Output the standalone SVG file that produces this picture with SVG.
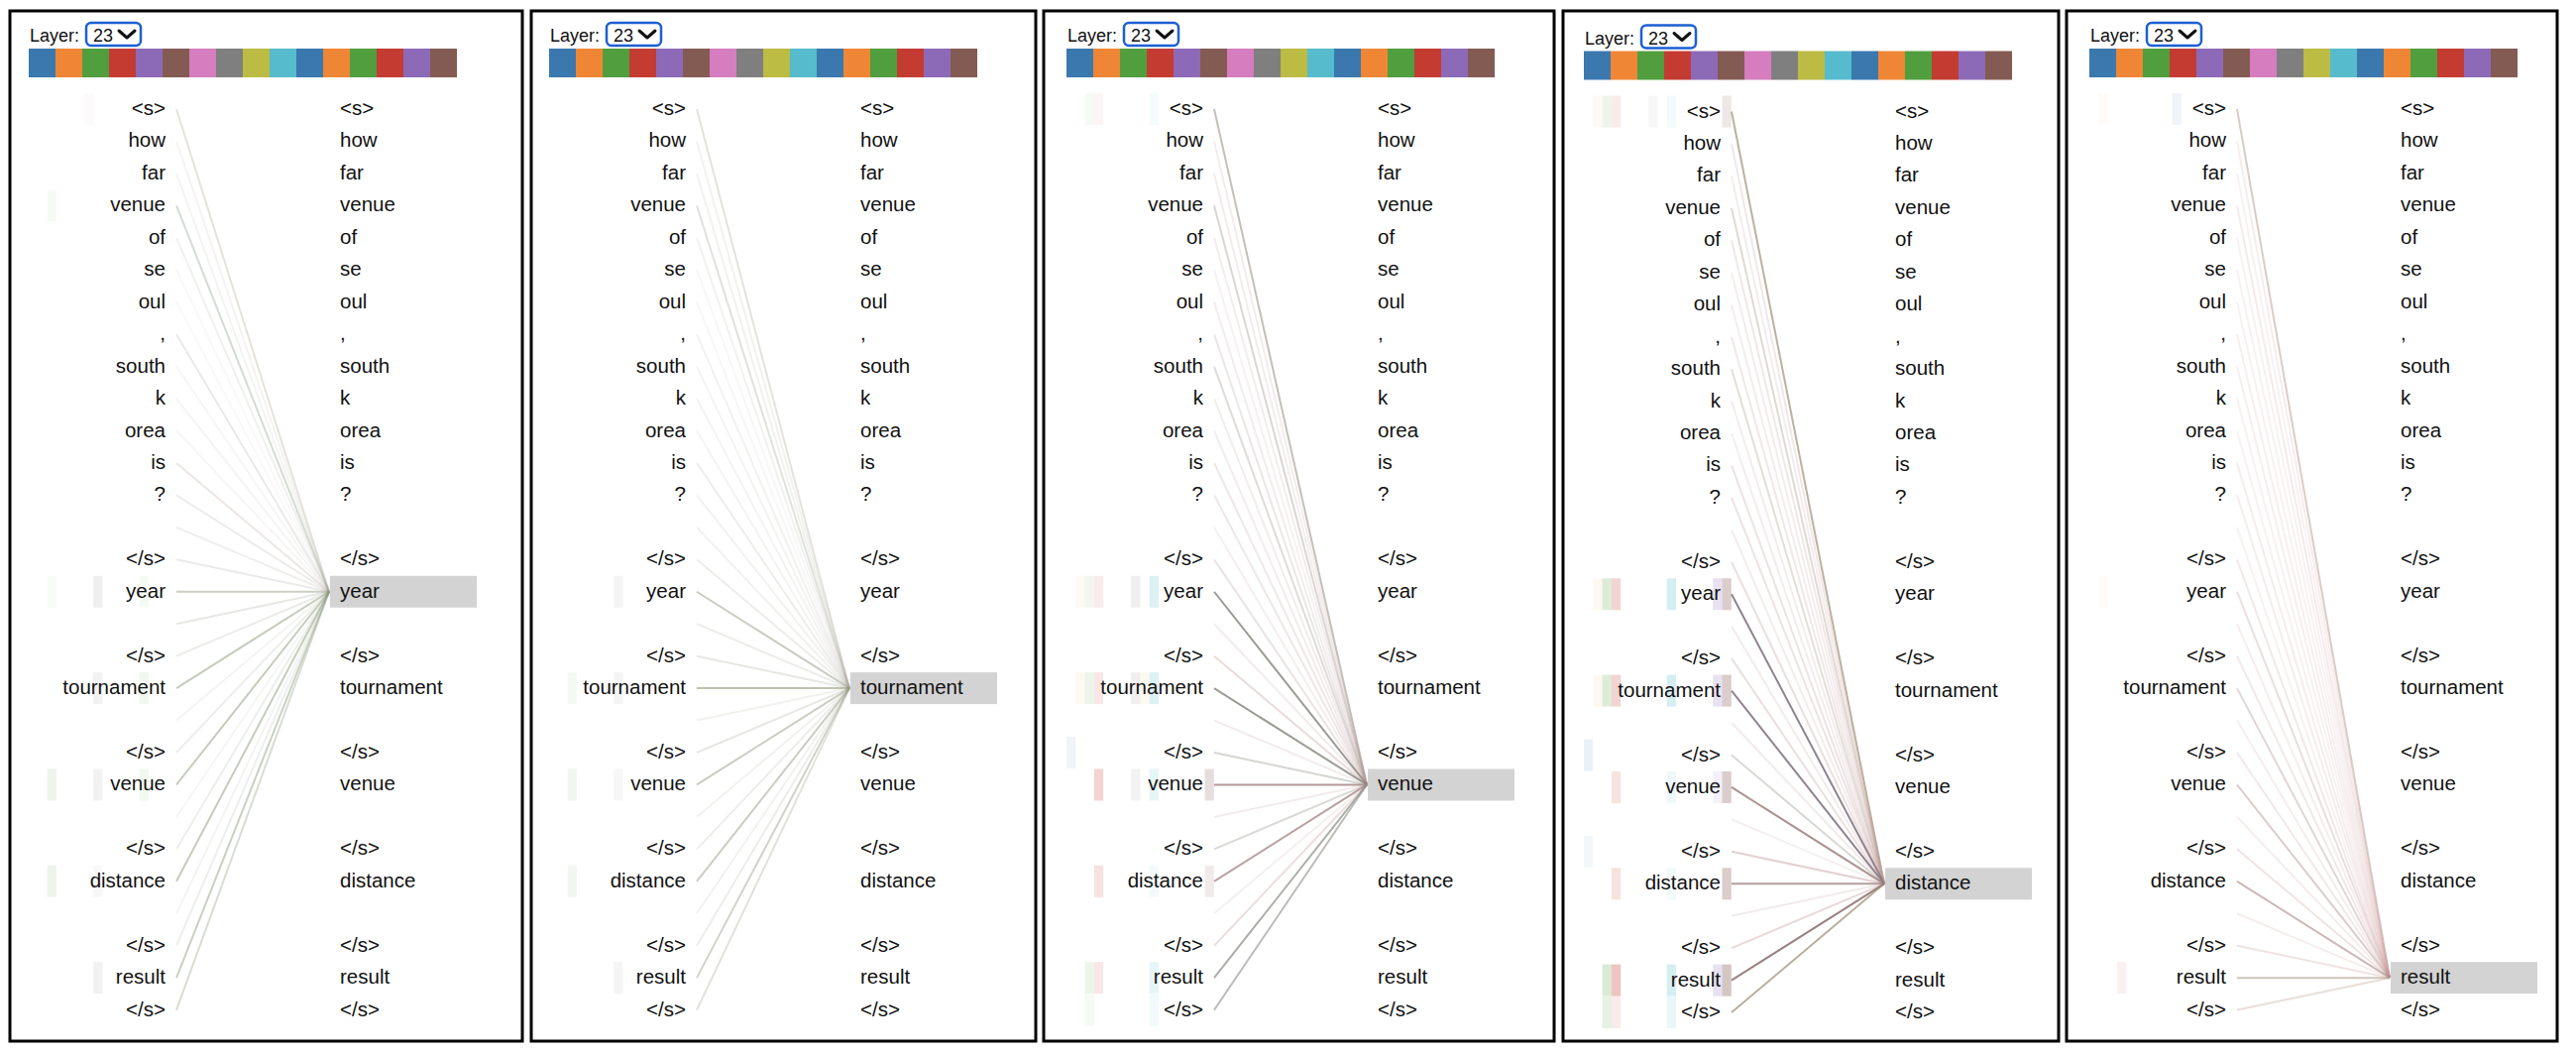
<svg xmlns="http://www.w3.org/2000/svg" width="2599" height="1065" viewBox="0 0 2599 1065">
<style>
.frame{fill:#fff;stroke:#000;stroke-width:3}
.lay{font-family:"Liberation Sans",Arial,Helvetica,sans-serif;font-size:18px;fill:#111}
.tok{font-family:"Liberation Sans",Arial,Helvetica,sans-serif;font-size:20.5px;fill:#111}
.l{text-anchor:end}
.sel{fill:#fff;stroke:#1c5fd4;stroke-width:2.5}
.chev{fill:none;stroke:#111;stroke-width:3;stroke-linecap:round;stroke-linejoin:round}
.hl{fill:#d3d3d3}
.conn line{stroke-width:2}
.c0{fill:#3a78ae}.c1{fill:#ef8636}.c2{fill:#519e3e}.c3{fill:#c43b32}.c4{fill:#8d6ab8}.c5{fill:#845b53}.c6{fill:#d57dbf}.c7{fill:#7f7f7f}.c8{fill:#bcbb44}.c9{fill:#56bbcd}
</style>
<defs>
<g id="hdr">
<text class="lay" x="1" y="42">Layer:</text>
<rect class="sel" x="58" y="23" width="55" height="23" rx="5"/>
<text class="lay" x="65" y="42">23</text>
<polyline class="chev" points="91,31 99,38 107,31"/>
<rect class="c0" x="0" y="49" width="27" height="29"/><rect class="c1" x="27" y="49" width="27" height="29"/><rect class="c2" x="54" y="49" width="27" height="29"/><rect class="c3" x="81" y="49" width="27" height="29"/><rect class="c4" x="108" y="49" width="27" height="29"/><rect class="c5" x="135" y="49" width="27" height="29"/><rect class="c6" x="162" y="49" width="27" height="29"/><rect class="c7" x="189" y="49" width="27" height="29"/><rect class="c8" x="216" y="49" width="27" height="29"/><rect class="c9" x="243" y="49" width="27" height="29"/><rect class="c0" x="270" y="49" width="27" height="29"/><rect class="c1" x="297" y="49" width="27" height="29"/><rect class="c2" x="324" y="49" width="27" height="29"/><rect class="c3" x="351" y="49" width="27" height="29"/><rect class="c4" x="378" y="49" width="27" height="29"/><rect class="c5" x="405" y="49" width="27" height="29"/>
</g>
</defs>
<rect width="2599" height="1065" fill="#fff"/>

<!-- ================= PANEL 1 ================= -->
<g id="panel1">
<rect class="frame" x="10" y="11" width="517" height="1039"/>
<g transform="translate(29,0)">
<use href="#hdr"/>
<g id="p1-heads">
<rect class="c6" x="55.8" y="94" width="9.3" height="32" opacity="0.04"/>
<rect class="c2" x="18.6" y="191.35" width="9.3" height="32" opacity="0.05"/>
<rect class="c7" x="65.1" y="580.75" width="9.3" height="32" opacity="0.12"/>
<rect class="c2" x="18.6" y="580.75" width="9.3" height="32" opacity="0.04"/>
<rect class="c2" x="111.6" y="580.75" width="9.3" height="32" opacity="0.05"/>
<rect class="c7" x="65.1" y="678.1" width="9.3" height="32" opacity="0.1"/>
<rect class="c2" x="111.6" y="678.1" width="9.3" height="32" opacity="0.08"/>
<rect class="c2" x="18.6" y="775.45" width="9.3" height="32" opacity="0.1"/>
<rect class="c7" x="65.1" y="775.45" width="9.3" height="32" opacity="0.1"/>
<rect class="c2" x="111.6" y="775.45" width="9.3" height="32" opacity="0.07"/>
<rect class="c2" x="18.6" y="872.8" width="9.3" height="32" opacity="0.1"/>
<rect class="c7" x="65.1" y="872.8" width="9.3" height="32" opacity="0.05"/>
<rect class="c7" x="65.1" y="970.15" width="9.3" height="32" opacity="0.1"/>
</g>
<rect id="p1-focus" class="hl" x="304" y="580.75" width="148" height="32"/>
<g id="p1-connectors" class="conn">
<line x1="149" y1="110" x2="303" y2="596.75" stroke="#a89f88" stroke-opacity="0.3"/>
<line x1="149" y1="142.45" x2="303" y2="596.75" stroke="#a8a090" stroke-opacity="0.12"/>
<line x1="149" y1="174.9" x2="303" y2="596.75" stroke="#a0a890" stroke-opacity="0.12"/>
<line x1="149" y1="207.35" x2="303" y2="596.75" stroke="#8fa08f" stroke-opacity="0.38"/>
<line x1="149" y1="239.8" x2="303" y2="596.75" stroke="#a0a898" stroke-opacity="0.17"/>
<line x1="149" y1="272.25" x2="303" y2="596.75" stroke="#c0a8a8" stroke-opacity="0.08"/>
<line x1="149" y1="304.7" x2="303" y2="596.75" stroke="#c0a8a8" stroke-opacity="0.08"/>
<line x1="149" y1="337.15" x2="303" y2="596.75" stroke="#9aa090" stroke-opacity="0.22"/>
<line x1="149" y1="369.6" x2="303" y2="596.75" stroke="#b0a8a0" stroke-opacity="0.1"/>
<line x1="149" y1="402.05" x2="303" y2="596.75" stroke="#a0a8a0" stroke-opacity="0.13"/>
<line x1="149" y1="434.5" x2="303" y2="596.75" stroke="#b0a8a0" stroke-opacity="0.1"/>
<line x1="149" y1="466.95" x2="303" y2="596.75" stroke="#b09890" stroke-opacity="0.24"/>
<line x1="149" y1="499.4" x2="303" y2="596.75" stroke="#a8a098" stroke-opacity="0.2"/>
<line x1="149" y1="531.85" x2="303" y2="596.75" stroke="#a8a8a0" stroke-opacity="0.2"/>
<line x1="149" y1="564.3" x2="303" y2="596.75" stroke="#a0a098" stroke-opacity="0.22"/>
<line x1="149" y1="596.75" x2="303" y2="596.75" stroke="#8a9576" stroke-opacity="0.45"/>
<line x1="149" y1="629.2" x2="303" y2="596.75" stroke="#a0a898" stroke-opacity="0.26"/>
<line x1="149" y1="661.65" x2="303" y2="596.75" stroke="#a0a898" stroke-opacity="0.22"/>
<line x1="149" y1="694.1" x2="303" y2="596.75" stroke="#7f8f6a" stroke-opacity="0.45"/>
<line x1="149" y1="726.55" x2="303" y2="596.75" stroke="#a0a898" stroke-opacity="0.13"/>
<line x1="149" y1="759" x2="303" y2="596.75" stroke="#a0a898" stroke-opacity="0.2"/>
<line x1="149" y1="791.45" x2="303" y2="596.75" stroke="#7f8f6a" stroke-opacity="0.45"/>
<line x1="149" y1="823.9" x2="303" y2="596.75" stroke="#a0a898" stroke-opacity="0.1"/>
<line x1="149" y1="856.35" x2="303" y2="596.75" stroke="#a0a898" stroke-opacity="0.2"/>
<line x1="149" y1="888.8" x2="303" y2="596.75" stroke="#7f8f6a" stroke-opacity="0.45"/>
<line x1="149" y1="921.25" x2="303" y2="596.75" stroke="#a0a898" stroke-opacity="0.13"/>
<line x1="149" y1="953.7" x2="303" y2="596.75" stroke="#a0a898" stroke-opacity="0.2"/>
<line x1="149" y1="986.15" x2="303" y2="596.75" stroke="#7f8f6a" stroke-opacity="0.42"/>
<line x1="149" y1="1018.6" x2="303" y2="596.75" stroke="#8a9576" stroke-opacity="0.33"/>
</g>
<g id="p1-left" class="tok l">
<text x="138" y="116">&lt;s&gt;</text><text x="138" y="148.45">how</text><text x="138" y="180.9">far</text><text x="138" y="213.35">venue</text><text x="138" y="245.8">of</text><text x="138" y="278.25">se</text><text x="138" y="310.7">oul</text><text x="138" y="343.15">,</text><text x="138" y="375.6">south</text><text x="138" y="408.05">k</text><text x="138" y="440.5">orea</text><text x="138" y="472.95">is</text><text x="138" y="505.4">?</text><text x="138" y="570.3">&lt;/s&gt;</text><text x="138" y="602.75">year</text><text x="138" y="667.65">&lt;/s&gt;</text><text x="138" y="700.1">tournament</text><text x="138" y="765">&lt;/s&gt;</text><text x="138" y="797.45">venue</text><text x="138" y="862.35">&lt;/s&gt;</text><text x="138" y="894.8">distance</text><text x="138" y="959.7">&lt;/s&gt;</text><text x="138" y="992.15">result</text><text x="138" y="1024.6">&lt;/s&gt;</text>
</g>
<g id="p1-right" class="tok">
<text x="314" y="116">&lt;s&gt;</text><text x="314" y="148.45">how</text><text x="314" y="180.9">far</text><text x="314" y="213.35">venue</text><text x="314" y="245.8">of</text><text x="314" y="278.25">se</text><text x="314" y="310.7">oul</text><text x="314" y="343.15">,</text><text x="314" y="375.6">south</text><text x="314" y="408.05">k</text><text x="314" y="440.5">orea</text><text x="314" y="472.95">is</text><text x="314" y="505.4">?</text><text x="314" y="570.3">&lt;/s&gt;</text><text x="314" y="602.75">year</text><text x="314" y="667.65">&lt;/s&gt;</text><text x="314" y="700.1">tournament</text><text x="314" y="765">&lt;/s&gt;</text><text x="314" y="797.45">venue</text><text x="314" y="862.35">&lt;/s&gt;</text><text x="314" y="894.8">distance</text><text x="314" y="959.7">&lt;/s&gt;</text><text x="314" y="992.15">result</text><text x="314" y="1024.6">&lt;/s&gt;</text>
</g>
</g>
</g>

<!-- ================= PANEL 2 ================= -->
<g id="panel2">
<rect class="frame" x="536" y="11" width="509" height="1039"/>
<g transform="translate(554,0)">
<use href="#hdr"/>
<g id="p2-heads">
<rect class="c7" x="65.1" y="580.75" width="9.3" height="32" opacity="0.08"/>
<rect class="c2" x="18.6" y="678.1" width="9.3" height="32" opacity="0.06"/>
<rect class="c7" x="65.1" y="678.1" width="9.3" height="32" opacity="0.08"/>
<rect class="c2" x="18.6" y="775.45" width="9.3" height="32" opacity="0.08"/>
<rect class="c7" x="65.1" y="775.45" width="9.3" height="32" opacity="0.06"/>
<rect class="c2" x="18.6" y="872.8" width="9.3" height="32" opacity="0.08"/>
<rect class="c7" x="65.1" y="970.15" width="9.3" height="32" opacity="0.08"/>
</g>
<rect id="p2-focus" class="hl" x="304" y="678.1" width="148" height="32"/>
<g id="p2-connectors" class="conn">
<line x1="149" y1="110" x2="303" y2="694.1" stroke="#a8a090" stroke-opacity="0.3"/>
<line x1="149" y1="142.45" x2="303" y2="694.1" stroke="#a0a090" stroke-opacity="0.15"/>
<line x1="149" y1="174.9" x2="303" y2="694.1" stroke="#a0a090" stroke-opacity="0.15"/>
<line x1="149" y1="207.35" x2="303" y2="694.1" stroke="#98a090" stroke-opacity="0.3"/>
<line x1="149" y1="239.8" x2="303" y2="694.1" stroke="#a0a090" stroke-opacity="0.15"/>
<line x1="149" y1="272.25" x2="303" y2="694.1" stroke="#b8a8a8" stroke-opacity="0.1"/>
<line x1="149" y1="304.7" x2="303" y2="694.1" stroke="#b8a8a8" stroke-opacity="0.1"/>
<line x1="149" y1="337.15" x2="303" y2="694.1" stroke="#a0a090" stroke-opacity="0.15"/>
<line x1="149" y1="369.6" x2="303" y2="694.1" stroke="#a0a090" stroke-opacity="0.12"/>
<line x1="149" y1="402.05" x2="303" y2="694.1" stroke="#a0a090" stroke-opacity="0.12"/>
<line x1="149" y1="434.5" x2="303" y2="694.1" stroke="#a0a090" stroke-opacity="0.12"/>
<line x1="149" y1="466.95" x2="303" y2="694.1" stroke="#b0a098" stroke-opacity="0.2"/>
<line x1="149" y1="499.4" x2="303" y2="694.1" stroke="#a0a090" stroke-opacity="0.15"/>
<line x1="149" y1="531.85" x2="303" y2="694.1" stroke="#a0a090" stroke-opacity="0.15"/>
<line x1="149" y1="564.3" x2="303" y2="694.1" stroke="#a0a090" stroke-opacity="0.2"/>
<line x1="149" y1="596.75" x2="303" y2="694.1" stroke="#8a8f78" stroke-opacity="0.45"/>
<line x1="149" y1="629.2" x2="303" y2="694.1" stroke="#a0a090" stroke-opacity="0.2"/>
<line x1="149" y1="661.65" x2="303" y2="694.1" stroke="#a0a090" stroke-opacity="0.25"/>
<line x1="149" y1="694.1" x2="303" y2="694.1" stroke="#8a9070" stroke-opacity="0.55"/>
<line x1="149" y1="726.55" x2="303" y2="694.1" stroke="#a0a090" stroke-opacity="0.15"/>
<line x1="149" y1="759" x2="303" y2="694.1" stroke="#a0a090" stroke-opacity="0.25"/>
<line x1="149" y1="791.45" x2="303" y2="694.1" stroke="#8a9078" stroke-opacity="0.45"/>
<line x1="149" y1="823.9" x2="303" y2="694.1" stroke="#a0a090" stroke-opacity="0.15"/>
<line x1="149" y1="856.35" x2="303" y2="694.1" stroke="#a0a090" stroke-opacity="0.2"/>
<line x1="149" y1="888.8" x2="303" y2="694.1" stroke="#8a9078" stroke-opacity="0.45"/>
<line x1="149" y1="921.25" x2="303" y2="694.1" stroke="#a0a090" stroke-opacity="0.15"/>
<line x1="149" y1="953.7" x2="303" y2="694.1" stroke="#a0a090" stroke-opacity="0.2"/>
<line x1="149" y1="986.15" x2="303" y2="694.1" stroke="#8a9078" stroke-opacity="0.4"/>
<line x1="149" y1="1018.6" x2="303" y2="694.1" stroke="#9a9a88" stroke-opacity="0.3"/>
</g>
<g id="p2-left" class="tok l">
<text x="138" y="116">&lt;s&gt;</text><text x="138" y="148.45">how</text><text x="138" y="180.9">far</text><text x="138" y="213.35">venue</text><text x="138" y="245.8">of</text><text x="138" y="278.25">se</text><text x="138" y="310.7">oul</text><text x="138" y="343.15">,</text><text x="138" y="375.6">south</text><text x="138" y="408.05">k</text><text x="138" y="440.5">orea</text><text x="138" y="472.95">is</text><text x="138" y="505.4">?</text><text x="138" y="570.3">&lt;/s&gt;</text><text x="138" y="602.75">year</text><text x="138" y="667.65">&lt;/s&gt;</text><text x="138" y="700.1">tournament</text><text x="138" y="765">&lt;/s&gt;</text><text x="138" y="797.45">venue</text><text x="138" y="862.35">&lt;/s&gt;</text><text x="138" y="894.8">distance</text><text x="138" y="959.7">&lt;/s&gt;</text><text x="138" y="992.15">result</text><text x="138" y="1024.6">&lt;/s&gt;</text>
</g>
<g id="p2-right" class="tok">
<text x="314" y="116">&lt;s&gt;</text><text x="314" y="148.45">how</text><text x="314" y="180.9">far</text><text x="314" y="213.35">venue</text><text x="314" y="245.8">of</text><text x="314" y="278.25">se</text><text x="314" y="310.7">oul</text><text x="314" y="343.15">,</text><text x="314" y="375.6">south</text><text x="314" y="408.05">k</text><text x="314" y="440.5">orea</text><text x="314" y="472.95">is</text><text x="314" y="505.4">?</text><text x="314" y="570.3">&lt;/s&gt;</text><text x="314" y="602.75">year</text><text x="314" y="667.65">&lt;/s&gt;</text><text x="314" y="700.1">tournament</text><text x="314" y="765">&lt;/s&gt;</text><text x="314" y="797.45">venue</text><text x="314" y="862.35">&lt;/s&gt;</text><text x="314" y="894.8">distance</text><text x="314" y="959.7">&lt;/s&gt;</text><text x="314" y="992.15">result</text><text x="314" y="1024.6">&lt;/s&gt;</text>
</g>
</g>
</g>

<!-- ================= PANEL 3 ================= -->
<g id="panel3">
<rect class="frame" x="1053" y="11" width="515" height="1039"/>
<g transform="translate(1076,0)">
<use href="#hdr"/>
<g id="p3-heads">
<rect class="c2" x="18.6" y="94" width="9.3" height="32" opacity="0.05"/>
<rect class="c3" x="27.9" y="94" width="9.3" height="32" opacity="0.05"/>
<rect class="c9" x="83.7" y="94" width="9.3" height="32" opacity="0.06"/>
<rect class="c1" x="9.3" y="580.75" width="9.3" height="32" opacity="0.05"/>
<rect class="c2" x="18.6" y="580.75" width="9.3" height="32" opacity="0.08"/>
<rect class="c3" x="27.9" y="580.75" width="9.3" height="32" opacity="0.1"/>
<rect class="c7" x="65.1" y="580.75" width="9.3" height="32" opacity="0.12"/>
<rect class="c9" x="83.7" y="580.75" width="9.3" height="32" opacity="0.2"/>
<rect class="c1" x="9.3" y="678.1" width="9.3" height="32" opacity="0.06"/>
<rect class="c2" x="18.6" y="678.1" width="9.3" height="32" opacity="0.1"/>
<rect class="c3" x="27.9" y="678.1" width="9.3" height="32" opacity="0.12"/>
<rect class="c7" x="65.1" y="678.1" width="9.3" height="32" opacity="0.12"/>
<rect class="c8" x="74.4" y="678.1" width="9.3" height="32" opacity="0.08"/>
<rect class="c9" x="83.7" y="678.1" width="9.3" height="32" opacity="0.2"/>
<rect class="c0" x="0" y="743" width="9.3" height="32" opacity="0.08"/>
<rect class="c3" x="27.9" y="775.45" width="9.3" height="32" opacity="0.22"/>
<rect class="c7" x="65.1" y="775.45" width="9.3" height="32" opacity="0.1"/>
<rect class="c9" x="83.7" y="775.45" width="9.3" height="32" opacity="0.15"/>
<rect class="c5" x="139.5" y="775.45" width="9.3" height="32" opacity="0.2"/>
<rect class="c3" x="27.9" y="872.8" width="9.3" height="32" opacity="0.15"/>
<rect class="c9" x="83.7" y="872.8" width="9.3" height="32" opacity="0.08"/>
<rect class="c5" x="139.5" y="872.8" width="9.3" height="32" opacity="0.12"/>
<rect class="c2" x="18.6" y="970.15" width="9.3" height="32" opacity="0.1"/>
<rect class="c3" x="27.9" y="970.15" width="9.3" height="32" opacity="0.12"/>
<rect class="c9" x="83.7" y="970.15" width="9.3" height="32" opacity="0.15"/>
<rect class="c2" x="18.6" y="1002.6" width="9.3" height="32" opacity="0.05"/>
<rect class="c9" x="83.7" y="1002.6" width="9.3" height="32" opacity="0.08"/>
</g>
<rect id="p3-focus" class="hl" x="304" y="775.45" width="148" height="32"/>
<g id="p3-connectors" class="conn">
<line x1="149" y1="110" x2="303" y2="791.45" stroke="#948b80" stroke-opacity="0.55"/>
<line x1="149" y1="142.45" x2="303" y2="791.45" stroke="#c0a0a0" stroke-opacity="0.2"/>
<line x1="149" y1="174.9" x2="303" y2="791.45" stroke="#c0a0a0" stroke-opacity="0.2"/>
<line x1="149" y1="207.35" x2="303" y2="791.45" stroke="#a09890" stroke-opacity="0.4"/>
<line x1="149" y1="239.8" x2="303" y2="791.45" stroke="#c0a0a0" stroke-opacity="0.2"/>
<line x1="149" y1="272.25" x2="303" y2="791.45" stroke="#c0a0a0" stroke-opacity="0.15"/>
<line x1="149" y1="304.7" x2="303" y2="791.45" stroke="#c0a0a0" stroke-opacity="0.2"/>
<line x1="149" y1="337.15" x2="303" y2="791.45" stroke="#b0a0a0" stroke-opacity="0.25"/>
<line x1="149" y1="369.6" x2="303" y2="791.45" stroke="#a09890" stroke-opacity="0.35"/>
<line x1="149" y1="402.05" x2="303" y2="791.45" stroke="#c0a0a0" stroke-opacity="0.2"/>
<line x1="149" y1="434.5" x2="303" y2="791.45" stroke="#c0a0a0" stroke-opacity="0.2"/>
<line x1="149" y1="466.95" x2="303" y2="791.45" stroke="#c0a0a0" stroke-opacity="0.25"/>
<line x1="149" y1="499.4" x2="303" y2="791.45" stroke="#c0a0a0" stroke-opacity="0.25"/>
<line x1="149" y1="531.85" x2="303" y2="791.45" stroke="#c8a8a8" stroke-opacity="0.2"/>
<line x1="149" y1="564.3" x2="303" y2="791.45" stroke="#c0a0a0" stroke-opacity="0.3"/>
<line x1="149" y1="596.75" x2="303" y2="791.45" stroke="#707068" stroke-opacity="0.7"/>
<line x1="149" y1="629.2" x2="303" y2="791.45" stroke="#d0b0b0" stroke-opacity="0.25"/>
<line x1="149" y1="661.65" x2="303" y2="791.45" stroke="#c09898" stroke-opacity="0.35"/>
<line x1="149" y1="694.1" x2="303" y2="791.45" stroke="#707068" stroke-opacity="0.7"/>
<line x1="149" y1="726.55" x2="303" y2="791.45" stroke="#d0b0b0" stroke-opacity="0.25"/>
<line x1="149" y1="759" x2="303" y2="791.45" stroke="#a0a498" stroke-opacity="0.45"/>
<line x1="149" y1="791.45" x2="303" y2="791.45" stroke="#9a7474" stroke-opacity="0.75"/>
<line x1="149" y1="823.9" x2="303" y2="791.45" stroke="#d0b0b0" stroke-opacity="0.25"/>
<line x1="149" y1="856.35" x2="303" y2="791.45" stroke="#a0a098" stroke-opacity="0.4"/>
<line x1="149" y1="888.8" x2="303" y2="791.45" stroke="#9a7878" stroke-opacity="0.7"/>
<line x1="149" y1="921.25" x2="303" y2="791.45" stroke="#d0b0b0" stroke-opacity="0.2"/>
<line x1="149" y1="953.7" x2="303" y2="791.45" stroke="#c8a0a0" stroke-opacity="0.35"/>
<line x1="149" y1="986.15" x2="303" y2="791.45" stroke="#80807a" stroke-opacity="0.65"/>
<line x1="149" y1="1018.6" x2="303" y2="791.45" stroke="#908e88" stroke-opacity="0.6"/>
</g>
<g id="p3-left" class="tok l">
<text x="138" y="116">&lt;s&gt;</text><text x="138" y="148.45">how</text><text x="138" y="180.9">far</text><text x="138" y="213.35">venue</text><text x="138" y="245.8">of</text><text x="138" y="278.25">se</text><text x="138" y="310.7">oul</text><text x="138" y="343.15">,</text><text x="138" y="375.6">south</text><text x="138" y="408.05">k</text><text x="138" y="440.5">orea</text><text x="138" y="472.95">is</text><text x="138" y="505.4">?</text><text x="138" y="570.3">&lt;/s&gt;</text><text x="138" y="602.75">year</text><text x="138" y="667.65">&lt;/s&gt;</text><text x="138" y="700.1">tournament</text><text x="138" y="765">&lt;/s&gt;</text><text x="138" y="797.45">venue</text><text x="138" y="862.35">&lt;/s&gt;</text><text x="138" y="894.8">distance</text><text x="138" y="959.7">&lt;/s&gt;</text><text x="138" y="992.15">result</text><text x="138" y="1024.6">&lt;/s&gt;</text>
</g>
<g id="p3-right" class="tok">
<text x="314" y="116">&lt;s&gt;</text><text x="314" y="148.45">how</text><text x="314" y="180.9">far</text><text x="314" y="213.35">venue</text><text x="314" y="245.8">of</text><text x="314" y="278.25">se</text><text x="314" y="310.7">oul</text><text x="314" y="343.15">,</text><text x="314" y="375.6">south</text><text x="314" y="408.05">k</text><text x="314" y="440.5">orea</text><text x="314" y="472.95">is</text><text x="314" y="505.4">?</text><text x="314" y="570.3">&lt;/s&gt;</text><text x="314" y="602.75">year</text><text x="314" y="667.65">&lt;/s&gt;</text><text x="314" y="700.1">tournament</text><text x="314" y="765">&lt;/s&gt;</text><text x="314" y="797.45">venue</text><text x="314" y="862.35">&lt;/s&gt;</text><text x="314" y="894.8">distance</text><text x="314" y="959.7">&lt;/s&gt;</text><text x="314" y="992.15">result</text><text x="314" y="1024.6">&lt;/s&gt;</text>
</g>
</g>
</g>

<!-- ================= PANEL 4 ================= -->
<g id="panel4">
<rect class="frame" x="1577" y="11" width="500" height="1039"/>
<g transform="translate(1598,2.5)">
<use href="#hdr"/>
<g id="p4-heads">
<rect class="c1" x="9.3" y="94" width="9.3" height="32" opacity="0.05"/>
<rect class="c2" x="18.6" y="94" width="9.3" height="32" opacity="0.1"/>
<rect class="c3" x="27.9" y="94" width="9.3" height="32" opacity="0.1"/>
<rect class="c7" x="65.1" y="94" width="9.3" height="32" opacity="0.06"/>
<rect class="c9" x="83.7" y="94" width="9.3" height="32" opacity="0.08"/>
<rect class="c5" x="139.5" y="94" width="9.3" height="32" opacity="0.15"/>
<rect class="c1" x="9.3" y="580.75" width="9.3" height="32" opacity="0.06"/>
<rect class="c2" x="18.6" y="580.75" width="9.3" height="32" opacity="0.2"/>
<rect class="c3" x="27.9" y="580.75" width="9.3" height="32" opacity="0.22"/>
<rect class="c9" x="83.7" y="580.75" width="9.3" height="32" opacity="0.25"/>
<rect class="c4" x="130.2" y="580.75" width="9.3" height="32" opacity="0.2"/>
<rect class="c5" x="139.5" y="580.75" width="9.3" height="32" opacity="0.3"/>
<rect class="c1" x="9.3" y="678.1" width="9.3" height="32" opacity="0.06"/>
<rect class="c2" x="18.6" y="678.1" width="9.3" height="32" opacity="0.2"/>
<rect class="c3" x="27.9" y="678.1" width="9.3" height="32" opacity="0.22"/>
<rect class="c9" x="83.7" y="678.1" width="9.3" height="32" opacity="0.25"/>
<rect class="c4" x="130.2" y="678.1" width="9.3" height="32" opacity="0.2"/>
<rect class="c5" x="139.5" y="678.1" width="9.3" height="32" opacity="0.3"/>
<rect class="c0" x="0" y="743" width="9.3" height="32" opacity="0.1"/>
<rect class="c3" x="27.9" y="775.45" width="9.3" height="32" opacity="0.15"/>
<rect class="c9" x="83.7" y="775.45" width="9.3" height="32" opacity="0.1"/>
<rect class="c4" x="130.2" y="775.45" width="9.3" height="32" opacity="0.1"/>
<rect class="c5" x="139.5" y="775.45" width="9.3" height="32" opacity="0.3"/>
<rect class="c0" x="0" y="840.35" width="9.3" height="32" opacity="0.06"/>
<rect class="c3" x="27.9" y="872.8" width="9.3" height="32" opacity="0.15"/>
<rect class="c9" x="83.7" y="872.8" width="9.3" height="32" opacity="0.08"/>
<rect class="c5" x="139.5" y="872.8" width="9.3" height="32" opacity="0.3"/>
<rect class="c2" x="18.6" y="970.15" width="9.3" height="32" opacity="0.22"/>
<rect class="c3" x="27.9" y="970.15" width="9.3" height="32" opacity="0.3"/>
<rect class="c9" x="83.7" y="970.15" width="9.3" height="32" opacity="0.25"/>
<rect class="c4" x="130.2" y="970.15" width="9.3" height="32" opacity="0.2"/>
<rect class="c5" x="139.5" y="970.15" width="9.3" height="32" opacity="0.35"/>
<rect class="c2" x="18.6" y="1002.6" width="9.3" height="32" opacity="0.15"/>
<rect class="c3" x="27.9" y="1002.6" width="9.3" height="32" opacity="0.1"/>
<rect class="c9" x="83.7" y="1002.6" width="9.3" height="32" opacity="0.12"/>
</g>
<rect id="p4-focus" class="hl" x="304" y="872.8" width="148" height="32"/>
<g id="p4-connectors" class="conn">
<line x1="149" y1="110" x2="303" y2="888.8" stroke="#a09078" stroke-opacity="0.7"/>
<line x1="149" y1="142.45" x2="303" y2="888.8" stroke="#c8a0a0" stroke-opacity="0.25"/>
<line x1="149" y1="174.9" x2="303" y2="888.8" stroke="#c8a0a0" stroke-opacity="0.2"/>
<line x1="149" y1="207.35" x2="303" y2="888.8" stroke="#b0a090" stroke-opacity="0.4"/>
<line x1="149" y1="239.8" x2="303" y2="888.8" stroke="#c8a0a0" stroke-opacity="0.25"/>
<line x1="149" y1="272.25" x2="303" y2="888.8" stroke="#c8a0a0" stroke-opacity="0.2"/>
<line x1="149" y1="304.7" x2="303" y2="888.8" stroke="#c8a0a0" stroke-opacity="0.2"/>
<line x1="149" y1="337.15" x2="303" y2="888.8" stroke="#c8a0a0" stroke-opacity="0.25"/>
<line x1="149" y1="369.6" x2="303" y2="888.8" stroke="#b0a090" stroke-opacity="0.35"/>
<line x1="149" y1="402.05" x2="303" y2="888.8" stroke="#c8a0a0" stroke-opacity="0.2"/>
<line x1="149" y1="434.5" x2="303" y2="888.8" stroke="#c8a0a0" stroke-opacity="0.2"/>
<line x1="149" y1="466.95" x2="303" y2="888.8" stroke="#c8a0a0" stroke-opacity="0.3"/>
<line x1="149" y1="499.4" x2="303" y2="888.8" stroke="#c8a0a0" stroke-opacity="0.3"/>
<line x1="149" y1="531.85" x2="303" y2="888.8" stroke="#c8a0a0" stroke-opacity="0.2"/>
<line x1="149" y1="564.3" x2="303" y2="888.8" stroke="#c8a0a0" stroke-opacity="0.35"/>
<line x1="149" y1="596.75" x2="303" y2="888.8" stroke="#6a5a68" stroke-opacity="0.75"/>
<line x1="149" y1="629.2" x2="303" y2="888.8" stroke="#d0b0b0" stroke-opacity="0.25"/>
<line x1="149" y1="661.65" x2="303" y2="888.8" stroke="#c8a0a0" stroke-opacity="0.35"/>
<line x1="149" y1="694.1" x2="303" y2="888.8" stroke="#6a5a68" stroke-opacity="0.75"/>
<line x1="149" y1="726.55" x2="303" y2="888.8" stroke="#d0b0b0" stroke-opacity="0.25"/>
<line x1="149" y1="759" x2="303" y2="888.8" stroke="#a8a8a0" stroke-opacity="0.45"/>
<line x1="149" y1="791.45" x2="303" y2="888.8" stroke="#8a6464" stroke-opacity="0.7"/>
<line x1="149" y1="823.9" x2="303" y2="888.8" stroke="#d0b0b0" stroke-opacity="0.2"/>
<line x1="149" y1="856.35" x2="303" y2="888.8" stroke="#c09898" stroke-opacity="0.45"/>
<line x1="149" y1="888.8" x2="303" y2="888.8" stroke="#8a6a6a" stroke-opacity="0.65"/>
<line x1="149" y1="921.25" x2="303" y2="888.8" stroke="#d0b0b0" stroke-opacity="0.25"/>
<line x1="149" y1="953.7" x2="303" y2="888.8" stroke="#c8a0a0" stroke-opacity="0.4"/>
<line x1="149" y1="986.15" x2="303" y2="888.8" stroke="#7a5858" stroke-opacity="0.75"/>
<line x1="149" y1="1018.6" x2="303" y2="888.8" stroke="#9a8c74" stroke-opacity="0.7"/>
</g>
<g id="p4-left" class="tok l">
<text x="138" y="116">&lt;s&gt;</text><text x="138" y="148.45">how</text><text x="138" y="180.9">far</text><text x="138" y="213.35">venue</text><text x="138" y="245.8">of</text><text x="138" y="278.25">se</text><text x="138" y="310.7">oul</text><text x="138" y="343.15">,</text><text x="138" y="375.6">south</text><text x="138" y="408.05">k</text><text x="138" y="440.5">orea</text><text x="138" y="472.95">is</text><text x="138" y="505.4">?</text><text x="138" y="570.3">&lt;/s&gt;</text><text x="138" y="602.75">year</text><text x="138" y="667.65">&lt;/s&gt;</text><text x="138" y="700.1">tournament</text><text x="138" y="765">&lt;/s&gt;</text><text x="138" y="797.45">venue</text><text x="138" y="862.35">&lt;/s&gt;</text><text x="138" y="894.8">distance</text><text x="138" y="959.7">&lt;/s&gt;</text><text x="138" y="992.15">result</text><text x="138" y="1024.6">&lt;/s&gt;</text>
</g>
<g id="p4-right" class="tok">
<text x="314" y="116">&lt;s&gt;</text><text x="314" y="148.45">how</text><text x="314" y="180.9">far</text><text x="314" y="213.35">venue</text><text x="314" y="245.8">of</text><text x="314" y="278.25">se</text><text x="314" y="310.7">oul</text><text x="314" y="343.15">,</text><text x="314" y="375.6">south</text><text x="314" y="408.05">k</text><text x="314" y="440.5">orea</text><text x="314" y="472.95">is</text><text x="314" y="505.4">?</text><text x="314" y="570.3">&lt;/s&gt;</text><text x="314" y="602.75">year</text><text x="314" y="667.65">&lt;/s&gt;</text><text x="314" y="700.1">tournament</text><text x="314" y="765">&lt;/s&gt;</text><text x="314" y="797.45">venue</text><text x="314" y="862.35">&lt;/s&gt;</text><text x="314" y="894.8">distance</text><text x="314" y="959.7">&lt;/s&gt;</text><text x="314" y="992.15">result</text><text x="314" y="1024.6">&lt;/s&gt;</text>
</g>
</g>
</g>

<!-- ================= PANEL 5 ================= -->
<g id="panel5">
<rect class="frame" x="2085" y="11" width="495" height="1039"/>
<g transform="translate(2108,0)">
<use href="#hdr"/>
<g id="p5-heads">
<rect class="c0" x="83.7" y="94" width="9.3" height="32" opacity="0.08"/>
<rect class="c1" x="9.3" y="94" width="9.3" height="32" opacity="0.04"/>
<rect class="c3" x="27.9" y="970.15" width="9.3" height="32" opacity="0.08"/>
<rect class="c1" x="9.3" y="580.75" width="9.3" height="32" opacity="0.04"/>
</g>
<rect id="p5-focus" class="hl" x="304" y="970.15" width="148" height="32"/>
<g id="p5-connectors" class="conn">
<line x1="149" y1="110" x2="303" y2="986.15" stroke="#a08070" stroke-opacity="0.4"/>
<line x1="149" y1="142.45" x2="303" y2="986.15" stroke="#d0a0a0" stroke-opacity="0.2"/>
<line x1="149" y1="174.9" x2="303" y2="986.15" stroke="#d0a0a0" stroke-opacity="0.15"/>
<line x1="149" y1="207.35" x2="303" y2="986.15" stroke="#d0a0a0" stroke-opacity="0.22"/>
<line x1="149" y1="239.8" x2="303" y2="986.15" stroke="#d0a0a0" stroke-opacity="0.15"/>
<line x1="149" y1="272.25" x2="303" y2="986.15" stroke="#d0a0a0" stroke-opacity="0.15"/>
<line x1="149" y1="304.7" x2="303" y2="986.15" stroke="#d0a0a0" stroke-opacity="0.15"/>
<line x1="149" y1="337.15" x2="303" y2="986.15" stroke="#d0a0a0" stroke-opacity="0.18"/>
<line x1="149" y1="369.6" x2="303" y2="986.15" stroke="#d0a0a0" stroke-opacity="0.18"/>
<line x1="149" y1="402.05" x2="303" y2="986.15" stroke="#d0a0a0" stroke-opacity="0.15"/>
<line x1="149" y1="434.5" x2="303" y2="986.15" stroke="#d0a0a0" stroke-opacity="0.15"/>
<line x1="149" y1="466.95" x2="303" y2="986.15" stroke="#d0a0a0" stroke-opacity="0.2"/>
<line x1="149" y1="499.4" x2="303" y2="986.15" stroke="#d0a0a0" stroke-opacity="0.2"/>
<line x1="149" y1="531.85" x2="303" y2="986.15" stroke="#d0a0a0" stroke-opacity="0.15"/>
<line x1="149" y1="564.3" x2="303" y2="986.15" stroke="#d0a0a0" stroke-opacity="0.25"/>
<line x1="149" y1="596.75" x2="303" y2="986.15" stroke="#b89090" stroke-opacity="0.3"/>
<line x1="149" y1="629.2" x2="303" y2="986.15" stroke="#d0a0a0" stroke-opacity="0.2"/>
<line x1="149" y1="661.65" x2="303" y2="986.15" stroke="#d0a0a0" stroke-opacity="0.25"/>
<line x1="149" y1="694.1" x2="303" y2="986.15" stroke="#b08888" stroke-opacity="0.35"/>
<line x1="149" y1="726.55" x2="303" y2="986.15" stroke="#d0a0a0" stroke-opacity="0.2"/>
<line x1="149" y1="759" x2="303" y2="986.15" stroke="#d0a0a0" stroke-opacity="0.25"/>
<line x1="149" y1="791.45" x2="303" y2="986.15" stroke="#a88080" stroke-opacity="0.4"/>
<line x1="149" y1="823.9" x2="303" y2="986.15" stroke="#d0a0a0" stroke-opacity="0.2"/>
<line x1="149" y1="856.35" x2="303" y2="986.15" stroke="#d0a0a0" stroke-opacity="0.3"/>
<line x1="149" y1="888.8" x2="303" y2="986.15" stroke="#987070" stroke-opacity="0.5"/>
<line x1="149" y1="921.25" x2="303" y2="986.15" stroke="#d0a0a0" stroke-opacity="0.2"/>
<line x1="149" y1="953.7" x2="303" y2="986.15" stroke="#d0a0a0" stroke-opacity="0.3"/>
<line x1="149" y1="986.15" x2="303" y2="986.15" stroke="#a89880" stroke-opacity="0.55"/>
<line x1="149" y1="1018.6" x2="303" y2="986.15" stroke="#c0a090" stroke-opacity="0.35"/>
</g>
<g id="p5-left" class="tok l">
<text x="138" y="116">&lt;s&gt;</text><text x="138" y="148.45">how</text><text x="138" y="180.9">far</text><text x="138" y="213.35">venue</text><text x="138" y="245.8">of</text><text x="138" y="278.25">se</text><text x="138" y="310.7">oul</text><text x="138" y="343.15">,</text><text x="138" y="375.6">south</text><text x="138" y="408.05">k</text><text x="138" y="440.5">orea</text><text x="138" y="472.95">is</text><text x="138" y="505.4">?</text><text x="138" y="570.3">&lt;/s&gt;</text><text x="138" y="602.75">year</text><text x="138" y="667.65">&lt;/s&gt;</text><text x="138" y="700.1">tournament</text><text x="138" y="765">&lt;/s&gt;</text><text x="138" y="797.45">venue</text><text x="138" y="862.35">&lt;/s&gt;</text><text x="138" y="894.8">distance</text><text x="138" y="959.7">&lt;/s&gt;</text><text x="138" y="992.15">result</text><text x="138" y="1024.6">&lt;/s&gt;</text>
</g>
<g id="p5-right" class="tok">
<text x="314" y="116">&lt;s&gt;</text><text x="314" y="148.45">how</text><text x="314" y="180.9">far</text><text x="314" y="213.35">venue</text><text x="314" y="245.8">of</text><text x="314" y="278.25">se</text><text x="314" y="310.7">oul</text><text x="314" y="343.15">,</text><text x="314" y="375.6">south</text><text x="314" y="408.05">k</text><text x="314" y="440.5">orea</text><text x="314" y="472.95">is</text><text x="314" y="505.4">?</text><text x="314" y="570.3">&lt;/s&gt;</text><text x="314" y="602.75">year</text><text x="314" y="667.65">&lt;/s&gt;</text><text x="314" y="700.1">tournament</text><text x="314" y="765">&lt;/s&gt;</text><text x="314" y="797.45">venue</text><text x="314" y="862.35">&lt;/s&gt;</text><text x="314" y="894.8">distance</text><text x="314" y="959.7">&lt;/s&gt;</text><text x="314" y="992.15">result</text><text x="314" y="1024.6">&lt;/s&gt;</text>
</g>
</g>
</g>
</svg>
